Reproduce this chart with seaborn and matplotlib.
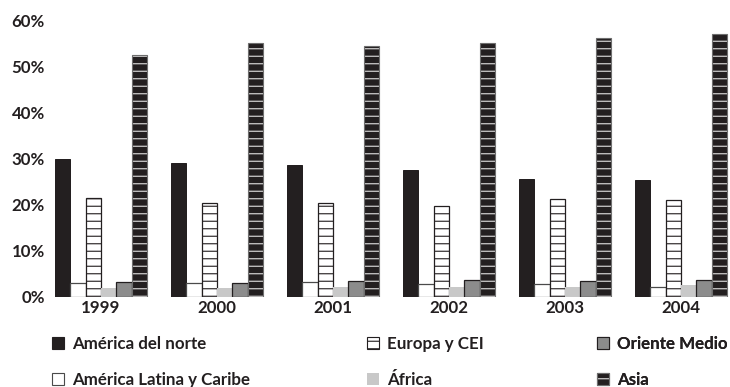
import matplotlib
matplotlib.use("Agg")
import matplotlib.pyplot as plt
from matplotlib.colors import to_rgba
from matplotlib.patches import Patch
import seaborn as sns
import pandas as pd

# Share of the total by region, in percent
years = ["1999", "2000", "2001", "2002", "2003", "2004"]
regions = ["América del norte", "América Latina y Caribe", "Europa y CEI",
           "África", "Oriente Medio", "Asia"]
america_norte = [29.9, 29.0, 28.6, 27.6, 25.6, 25.3]
america_latina = [3.0, 3.0, 3.1, 2.8, 2.7, 2.1]
europa_cei = [21.5, 20.4, 20.4, 19.7, 21.2, 21.1]
africa = [1.8, 1.8, 2.2, 2.2, 2.2, 2.5]
oriente_medio = [3.1, 3.0, 3.5, 3.7, 3.5, 3.7]
asia = [52.6, 55.2, 54.5, 55.2, 56.3, 57.2]
y_ticks = [0, 10, 20, 30, 40, 50, 60]
y_tick_labels = ["0%", "10%", "20%", "30%", "40%", "50%", "60%"]

series = [america_norte, america_latina, europa_cei, africa, oriente_medio, asia]
df = pd.DataFrame({
    "year": [y for _ in regions for y in years],
    "region": [r for r in regions for _ in years],
    "value": [v for s in series for v in s],
})

INK = "#231f20"
# facecolor, outline, outline width, hatch pattern, hatch colour
styles = {
    "América del norte": dict(facecolor=INK, edgecolor=INK, linewidth=0.8, hatch=None, hatchcolor=None),
    "América Latina y Caribe": dict(facecolor="white", edgecolor="#4a4a4a", linewidth=1.0, hatch=None, hatchcolor=None),
    "Europa y CEI": dict(facecolor="white", edgecolor=INK, linewidth=1.0, hatch="--", hatchcolor=INK),
    "África": dict(facecolor="#c8c8c8", edgecolor="#c8c8c8", linewidth=0, hatch=None, hatchcolor=None),
    "Oriente Medio": dict(facecolor="#8c8c8c", edgecolor=INK, linewidth=1.0, hatch=None, hatchcolor=None),
    "Asia": dict(facecolor=INK, edgecolor="#6e6e6e", linewidth=0.9, hatch="--", hatchcolor="#dedede"),
}


def apply_style(patch, st):
    patch.set_facecolor(st["facecolor"])
    patch.set_edgecolor(st["edgecolor"])
    patch.set_linewidth(st["linewidth"])
    if st["hatch"]:
        patch.set_hatch(st["hatch"])
        # hatch lines in their own colour, independent of the outline
        patch._hatch_color = to_rgba(st["hatchcolor"])


sns.set_style("white")
plt.rcParams["font.family"] = ["Lato", "DejaVu Sans"]
plt.rcParams["font.weight"] = "bold"
plt.rcParams["hatch.linewidth"] = 0.9
plt.rcParams["text.color"] = INK

DPI = 90
fig = plt.figure(figsize=(730 / DPI, 387 / DPI), dpi=DPI)
ax = fig.add_axes([50 / 730, 0.2333, 680 / 730, 0.7132])

sns.barplot(data=df, x="year", y="value", hue="region", hue_order=regions,
            order=years, palette=[styles[r]["facecolor"] for r in regions],
            saturation=1, width=0.8, errorbar=None, legend=False, ax=ax)

for region, container in zip(regions, ax.containers):
    for bar in container:
        apply_style(bar, styles[region])

ax.set_xlim(-0.4397, 5.4224)
ax.set_ylim(0, 60)
ax.set_yticks(y_ticks)
ax.set_yticklabels(y_tick_labels)
ax.set_xlabel("")
ax.set_ylabel("")
ax.tick_params(axis="both", length=0, labelsize=13.5, labelcolor=INK)
ax.tick_params(axis="y", pad=4)
ax.tick_params(axis="x", pad=2.5)
for lab in ax.get_xticklabels() + ax.get_yticklabels():
    lab.set_fontweight("bold")
sns.despine(ax=ax, left=True, bottom=True)


def handle(region):
    p = Patch()
    apply_style(p, styles[region])
    if styles[region]["linewidth"] == 0:
        p.set_edgecolor(styles[region]["facecolor"])
    else:
        p.set_linewidth(0.9)
    return p


columns = [(regions[0:2], 52), (regions[2:4], 367), (["Oriente Medio", "Asia"], 597)]
legend_kw = dict(loc="center left", frameon=False, borderpad=0, borderaxespad=0,
                 handlelength=0.71, handleheight=0.71, handletextpad=0.5,
                 labelspacing=1.18, prop=dict(family=["Lato", "DejaVu Sans"], weight="bold", size=13.5),
                 bbox_transform=fig.transFigure)
for labels, x_px in columns:
    leg = ax.legend(handles=[handle(r) for r in labels], labels=labels,
                    bbox_to_anchor=(x_px / 730, (387 - 362) / 387), **legend_kw)
    for t in leg.get_texts():
        t.set_color(INK)
    ax.add_artist(leg)

fig.savefig("out.png", dpi=DPI)
